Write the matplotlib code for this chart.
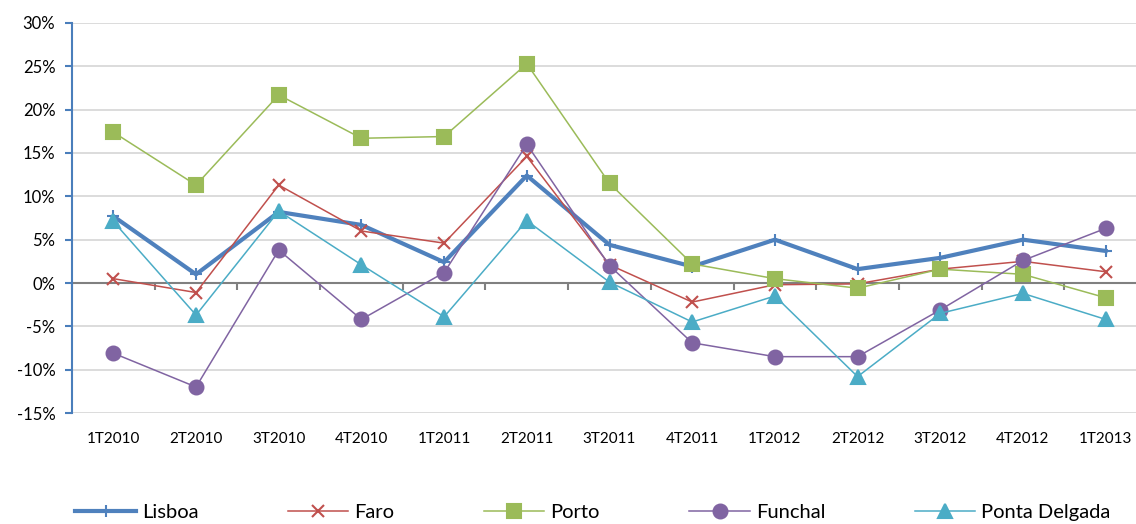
import numpy as np
import matplotlib
matplotlib.use("Agg")
import matplotlib.pyplot as plt
from matplotlib.ticker import FuncFormatter, FixedLocator

plt.rcParams['font.family'] = ['Lato', 'DejaVu Sans']

# dados (variacao trimestral, %)
trimestres = ['1T2010', '2T2010', '3T2010', '4T2010', '1T2011', '2T2011', '3T2011',
              '4T2011', '1T2012', '2T2012', '3T2012', '4T2012', '1T2013']
lisboa = [7.7, 1.0, 8.2, 6.7, 2.4, 12.4, 4.4, 1.9, 5.0, 1.6, 2.9, 5.0, 3.7]
faro = [0.5, -1.1, 11.3, 6.0, 4.6, 14.6, 2.1, -2.2, -0.2, -0.1, 1.6, 2.5, 1.3]
porto = [17.4, 11.3, 21.7, 16.7, 16.9, 25.3, 11.5, 2.2, 0.5, -0.6, 1.6, 1.0, -1.7]
funchal = [-8.1, -12.0, 3.8, -4.2, 1.2, 16.0, 2.0, -6.9, -8.5, -8.5, -3.1, 2.6, 6.3]
ponta_delgada = [7.1, -3.7, 8.3, 2.1, -3.9, 7.2, 0.1, -4.5, -1.5, -10.8, -3.5, -1.2, -4.2]

series = [
    ('Lisboa', lisboa, '#4F81BD', '+', 9, 3.0),
    ('Faro', faro, '#C0504D', 'x', 8, 1.1),
    ('Porto', porto, '#9BBB59', 's', 9.5, 1.1),
    ('Funchal', funchal, '#8064A2', 'o', 10, 1.1),
    ('Ponta Delgada', ponta_delgada, '#4BACC6', '^', 10, 1.1),
]

fig = plt.figure(figsize=(11.36, 5.24), dpi=100)
ax = fig.add_axes([72 / 1136, 111 / 524, 1075 / 1136, 390 / 524])

x = np.arange(len(trimestres))
for nome, vals, cor, mk, ms, lw in series:
    ax.plot(x, vals, color=cor, lw=lw, marker=mk, ms=ms, mec=cor, mfc=cor,
            mew=1.5, label=nome, zorder=3)

ax.set_xlim(-0.5, len(trimestres) - 0.5)
ax.set_ylim(-15, 30)
ax.set_yticks(np.arange(-15, 31, 5))
ax.yaxis.set_major_formatter(FuncFormatter(lambda v, p: f'{v:.0f}%'))
ax.grid(axis='y', color='#D9D9D9', lw=1.3, zorder=0)
ax.set_axisbelow(True)

for s in ['top', 'right']:
    ax.spines[s].set_visible(False)
ax.spines['left'].set_color('#4A7EBB')
ax.spines['left'].set_linewidth(1.5)
ax.tick_params(axis='y', colors='#4A7EBB', length=5, width=1.5, labelsize=12,
               labelcolor='black', pad=7)

# eixo das categorias no zero
ax.spines['bottom'].set_position(('data', 0))
ax.spines['bottom'].set_color('#808080')
ax.spines['bottom'].set_linewidth(1.5)
ax.spines['bottom'].set_zorder(2)
ax.xaxis.set_major_locator(FixedLocator(x))
ax.xaxis.set_minor_locator(FixedLocator(np.arange(-0.5, len(trimestres), 1)))
ax.tick_params(axis='x', which='major', length=0, labelbottom=False)
ax.tick_params(axis='x', which='minor', length=5, width=1.5, color='#808080',
               direction='out')

sec = ax.secondary_xaxis(location=0)
sec.set_xticks(x, trimestres)
sec.tick_params(length=0, labelsize=11, pad=14)
sec.spines['bottom'].set_visible(False)

fig.legend(loc='center', bbox_to_anchor=(0.522, 0.022), ncol=5, frameon=False,
           fontsize=14.5, handlelength=3.0, handletextpad=0.3, columnspacing=4.45)

fig.savefig('out.png', dpi=100)
